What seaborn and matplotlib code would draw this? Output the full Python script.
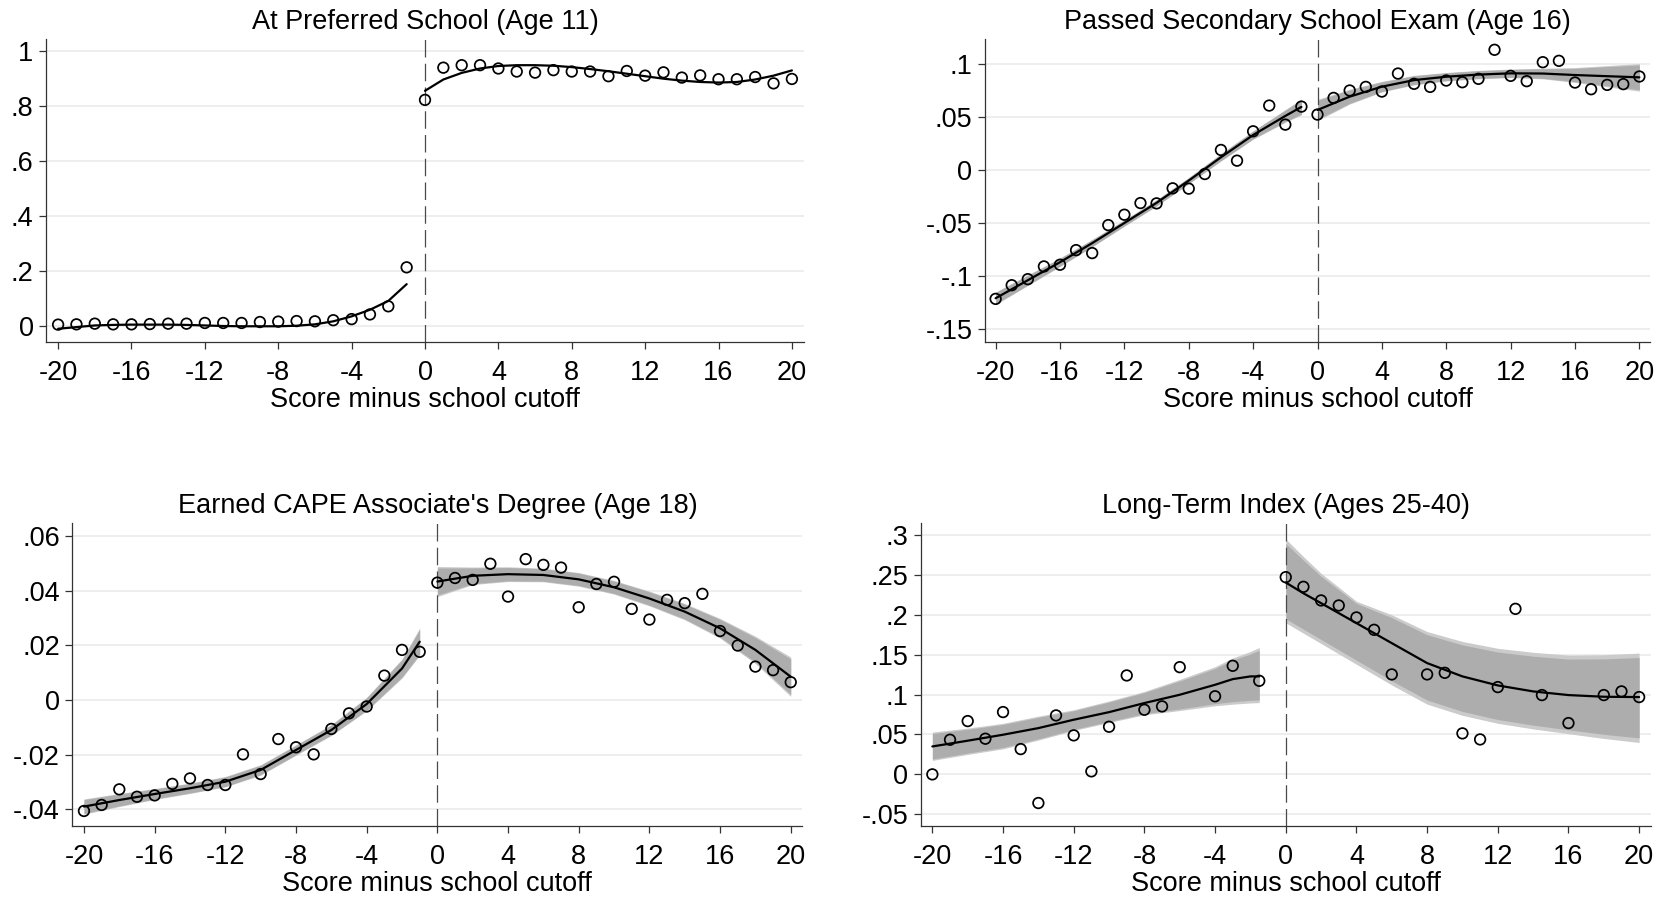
import matplotlib
matplotlib.use("Agg")
import matplotlib.pyplot as plt
import pandas as pd
import seaborn as sns

sns.set_theme(style="white")
plt.rcParams["font.family"] = ["Liberation Sans", "DejaVu Sans"]

W, H = 1666, 897
XLABEL = "Score minus school cutoff"
X_TICKS = [-20, -16, -12, -8, -4, 0, 4, 8, 12, 16, 20]
X_TICK_LABELS = ["-20", "-16", "-12", "-8", "-4", "0", "4", "8", "12", "16", "20"]

# ---------------- At Preferred School (Age 11) ----------------
pref_title = "At Preferred School (Age 11)"
pref_bin_left = list(range(-20, 0))
pref_mean_left = [0.005, 0.006, 0.0085, 0.006, 0.006, 0.007, 0.0085, 0.0085, 0.011, 0.011,
                  0.011, 0.0145, 0.016, 0.018, 0.017, 0.021, 0.025, 0.042, 0.0715, 0.213]
pref_bin_right = list(range(0, 21))
pref_mean_right = [0.821, 0.938, 0.947, 0.947, 0.935, 0.924, 0.920, 0.929, 0.924, 0.924, 0.907,
                   0.926, 0.909, 0.921, 0.902, 0.910, 0.896, 0.896, 0.904, 0.881, 0.897]
pref_fit_x_left = list(range(-20, 0))
pref_fit_left = [-0.010, -0.004, 0.002, 0.004, 0.005, 0.005, 0.005, 0.004, 0.002, 0.000,
                 -0.001, -0.001, -0.001, 0.001, 0.006, 0.017, 0.035, 0.059, 0.091, 0.152]
pref_fit_x_right = list(range(0, 21))
pref_fit_right = [0.854, 0.895, 0.919, 0.935, 0.944, 0.947, 0.947, 0.945, 0.940, 0.933, 0.925,
                  0.916, 0.907, 0.898, 0.891, 0.886, 0.884, 0.886, 0.895, 0.909, 0.928]
pref_yticks = [0, 0.2, 0.4, 0.6, 0.8, 1]
pref_ytick_labels = ["0", ".2", ".4", ".6", ".8", "1"]

# ---------------- Passed Secondary School Exam (Age 16) ----------------
exam_title = "Passed Secondary School Exam (Age 16)"
exam_bin_left = list(range(-20, 0))
exam_mean_left = [-0.1216, -0.1087, -0.103, -0.091, -0.0894, -0.0756, -0.0784, -0.052, -0.0422, -0.0312,
                  -0.0315, -0.0173, -0.0176, -0.0038, 0.0189, 0.0088, 0.0365, 0.0608, 0.0428, 0.0598]
exam_bin_right = list(range(0, 21))
exam_mean_right = [0.0523, 0.068, 0.075, 0.0784, 0.074, 0.091, 0.0813, 0.0784, 0.0844, 0.0828, 0.086,
                   0.1134, 0.0888, 0.0838, 0.1017, 0.103, 0.0825, 0.0762, 0.0803, 0.081, 0.0882]
exam_fit_x_left = [-20, -18, -16, -14, -12, -10, -8, -6, -4, -2, -1]
exam_fit_left = [-0.121, -0.104, -0.087, -0.069, -0.050, -0.031, -0.010, 0.012, 0.033, 0.051, 0.0595]
exam_ci_lo_left = [-0.127, -0.109, -0.091, -0.0725, -0.053, -0.034, -0.013, 0.0085, 0.029, 0.045, 0.052]
exam_ci_hi_left = [-0.115, -0.099, -0.083, -0.0655, -0.047, -0.028, -0.007, 0.0155, 0.037, 0.057, 0.067]
exam_fit_x_right = [0, 2, 4, 6, 8, 10, 12, 14, 16, 18, 20]
exam_fit_right = [0.0566, 0.0692, 0.0786, 0.0848, 0.088, 0.090, 0.0912, 0.091, 0.0896, 0.0885, 0.0874]
exam_ci_lo_right = [0.0466, 0.0622, 0.0736, 0.0803, 0.084, 0.086, 0.0872, 0.086, 0.0826, 0.0785, 0.0744]
exam_ci_hi_right = [0.0666, 0.0762, 0.0836, 0.0893, 0.092, 0.094, 0.0952, 0.096, 0.0966, 0.0985, 0.1004]
exam_yticks = [-0.15, -0.1, -0.05, 0, 0.05, 0.1]
exam_ytick_labels = ["-.15", "-.1", "-.05", "0", ".05", ".1"]

# ---------------- Earned CAPE Associate's Degree (Age 18) ----------------
cape_title = "Earned CAPE Associate's Degree (Age 18)"
cape_bin_left = list(range(-20, 0))
cape_mean_left = [-0.0406, -0.0384, -0.0327, -0.0354, -0.0349, -0.0307, -0.0287, -0.0311, -0.0311, -0.0199,
                  -0.0271, -0.0143, -0.0173, -0.0199, -0.0106, -0.0049, -0.0024, 0.0089, 0.0183, 0.0176]
cape_bin_right = list(range(0, 21))
cape_mean_right = [0.0429, 0.0446, 0.0439, 0.0498, 0.0378, 0.0515, 0.0494, 0.0484, 0.0339, 0.0424, 0.0432,
                   0.0333, 0.0294, 0.0366, 0.0354, 0.0388, 0.0252, 0.0199, 0.0122, 0.0109, 0.0065]
cape_fit_x_left = [-20, -18, -16, -14, -12, -10, -8, -6, -4, -2, -1]
cape_fit_left = [-0.039, -0.0366, -0.0344, -0.0323, -0.0299, -0.0256, -0.0183, -0.0110, -0.0015, 0.0115, 0.0213]
cape_ci_lo_left = [-0.0418, -0.0390, -0.0364, -0.0342, -0.0318, -0.0275, -0.0202, -0.0130, -0.0040, 0.0080, 0.0163]
cape_ci_hi_left = [-0.0362, -0.0342, -0.0324, -0.0304, -0.0280, -0.0237, -0.0164, -0.0090, 0.0010, 0.0150, 0.0263]
cape_fit_x_right = [0, 2, 4, 6, 8, 10, 12, 14, 16, 18, 20]
cape_fit_right = [0.0433, 0.0454, 0.046, 0.0457, 0.0441, 0.0412, 0.0371, 0.0323, 0.0262, 0.0183, 0.0085]
cape_ci_lo_right = [0.0378, 0.0422, 0.0433, 0.0432, 0.0416, 0.0387, 0.0344, 0.0293, 0.0226, 0.0133, 0.0013]
cape_ci_hi_right = [0.0488, 0.0486, 0.0487, 0.0482, 0.0466, 0.0437, 0.0398, 0.0353, 0.0298, 0.0233, 0.0157]
cape_yticks = [-0.04, -0.02, 0, 0.02, 0.04, 0.06]
cape_ytick_labels = ["-.04", "-.02", "0", ".02", ".04", ".06"]

# ---------------- Long-Term Index (Ages 25-40) ----------------
ltix_title = "Long-Term Index (Ages 25-40)"
ltix_bin_left = [-20, -19, -18, -17, -16, -15, -14, -13, -12, -11, -10, -9, -8, -7, -6, -4, -3, -1.5]
ltix_mean_left = [0.0, 0.0434, 0.0668, 0.0447, 0.0781, 0.0317, -0.0359, 0.0739, 0.0489, 0.0038,
                  0.0597, 0.124, 0.081, 0.0852, 0.1344, 0.0979, 0.1361, 0.1173]
ltix_bin_right = [0, 1, 2, 3, 4, 5, 6, 8, 9, 10, 11, 12, 13, 14.5, 16, 18, 19, 20]
ltix_mean_right = [0.2472, 0.2351, 0.218, 0.2117, 0.1967, 0.1812, 0.1253, 0.1253, 0.1273, 0.0514,
                   0.0438, 0.1094, 0.2075, 0.0994, 0.0643, 0.0994, 0.104, 0.0969]
ltix_fit_x_left = [-20, -18, -16, -14, -12, -10, -8, -6, -4, -3, -2, -1.5]
ltix_fit_left = [0.035, 0.0422, 0.0497, 0.058, 0.0685, 0.078, 0.0894, 0.0998, 0.1123, 0.1194, 0.1228, 0.1228]
ltix_ci_lo_left = [0.0175, 0.025, 0.032, 0.043, 0.055, 0.065, 0.0747, 0.080, 0.086, 0.088, 0.0895, 0.090]
ltix_ci_hi_left = [0.053, 0.058, 0.064, 0.073, 0.081, 0.092, 0.104, 0.119, 0.135, 0.146, 0.154, 0.159]
ltix_fit_x_right = [0, 1, 2, 4, 6, 8, 10, 12, 14, 16, 18, 20]
ltix_fit_right = [0.2405, 0.227, 0.2146, 0.1896, 0.1645, 0.1395, 0.1228, 0.1115, 0.104, 0.0994, 0.0973, 0.0969]
ltix_ci_lo_right = [0.190, 0.177, 0.164, 0.138, 0.112, 0.088, 0.074, 0.064, 0.057, 0.051, 0.045, 0.040]
ltix_ci_hi_right = [0.295, 0.273, 0.252, 0.217, 0.200, 0.179, 0.1666, 0.158, 0.153, 0.1495, 0.150, 0.152]
ltix_yticks = [-0.05, 0, 0.05, 0.1, 0.15, 0.2, 0.25, 0.3]
ltix_ytick_labels = ["-.05", "0", ".05", ".1", ".15", ".2", ".25", ".3"]

OUTER_BAND = "#cbcbcb"
INNER_BAND = "#adadad"
INNER_SHARE = 0.9
TEXT_SIZE = 19.5
TICK_SIZE = 19.5


def band(ax, x, fit, lo, hi):
    # light outer shading with a darker core inside it
    ax.fill_between(x, lo, hi, color=OUTER_BAND, lw=0, zorder=1)
    lo_in = [f - INNER_SHARE * (f - l) for f, l in zip(fit, lo)]
    hi_in = [f + INNER_SHARE * (h - f) for f, h in zip(fit, hi)]
    ax.fill_between(x, lo_in, hi_in, color=INNER_BAND, lw=0, zorder=1.5)


def panel(box, ylim, title, yticks, ylabels, bins, means, fits, bands):
    l, r, t, b = box
    ax = fig.add_axes([l / W, 1 - b / H, (r - l) / W, (b - t) / H])
    ax.set_xlim(-20.66, 20.66)
    ax.set_ylim(*ylim)
    for y in yticks:
        ax.axhline(y, color="#ebebeb", lw=1.2, zorder=0)
    for x, lo, hi, fit in bands:
        band(ax, x, fit, lo, hi)
    for fx, fy in fits:
        d = pd.DataFrame({"x": fx, "y": fy})
        sns.lineplot(data=d, x="x", y="y", ax=ax, color="black", lw=1.6,
                     sort=False, estimator=None, zorder=3)
    for bx, by in zip(bins, means):
        d = pd.DataFrame({"x": bx, "y": by})
        sns.scatterplot(data=d, x="x", y="y", ax=ax, marker="o", s=58,
                        facecolors="none", edgecolor="black", linewidth=1.25, zorder=4)
    ax.axvline(0, color="#4a4a4a", lw=0.9, ls=(0, (14, 5)), zorder=2)
    ax.set_xticks(X_TICKS)
    ax.set_xticklabels(X_TICK_LABELS)
    ax.set_yticks(yticks)
    ax.set_yticklabels(ylabels)
    ax.tick_params(axis="both", which="major", direction="out", length=5, width=0.9,
                   color="#333333", labelsize=TICK_SIZE, labelcolor="black",
                   left=True, bottom=True)
    ax.tick_params(axis="x", pad=8)
    ax.tick_params(axis="y", pad=4)
    for side in ("top", "right"):
        ax.spines[side].set_visible(False)
    for side in ("left", "bottom"):
        ax.spines[side].set_color("#333333")
        ax.spines[side].set_linewidth(0.9)
    ax.set_xlabel(XLABEL, fontsize=TEXT_SIZE, labelpad=1, color="black")
    ax.set_ylabel("")
    ax.set_title(title, fontsize=TEXT_SIZE, pad=7.5, color="black")
    ax.grid(False)
    return ax


fig = plt.figure(figsize=(W / 100, H / 100), dpi=100, facecolor="white")

panel((46, 804, 39.3, 341.7), (-0.057, 1.041), pref_title, pref_yticks, pref_ytick_labels,
      [pref_bin_left, pref_bin_right], [pref_mean_left, pref_mean_right],
      [(pref_fit_x_left, pref_fit_left), (pref_fit_x_right, pref_fit_right)], [])

panel((985, 1650, 39.3, 341.7), (-0.162, 0.1233), exam_title, exam_yticks, exam_ytick_labels,
      [exam_bin_left, exam_bin_right], [exam_mean_left, exam_mean_right],
      [(exam_fit_x_left, exam_fit_left), (exam_fit_x_right, exam_fit_right)],
      [(exam_fit_x_left, exam_ci_lo_left, exam_ci_hi_left, exam_fit_left),
       (exam_fit_x_right, exam_ci_lo_right, exam_ci_hi_right, exam_fit_right)])

panel((72.3, 802.4, 523.3, 826), (-0.0461, 0.0646), cape_title, cape_yticks, cape_ytick_labels,
      [cape_bin_left, cape_bin_right], [cape_mean_left, cape_mean_right],
      [(cape_fit_x_left, cape_fit_left), (cape_fit_x_right, cape_fit_right)],
      [(cape_fit_x_left, cape_ci_lo_left, cape_ci_hi_left, cape_fit_left),
       (cape_fit_x_right, cape_ci_lo_right, cape_ci_hi_right, cape_fit_right)])

panel((920.7, 1650.8, 523.3, 826), (-0.0647, 0.3147), ltix_title, ltix_yticks, ltix_ytick_labels,
      [ltix_bin_left, ltix_bin_right], [ltix_mean_left, ltix_mean_right],
      [(ltix_fit_x_left, ltix_fit_left), (ltix_fit_x_right, ltix_fit_right)],
      [(ltix_fit_x_left, ltix_ci_lo_left, ltix_ci_hi_left, ltix_fit_left),
       (ltix_fit_x_right, ltix_ci_lo_right, ltix_ci_hi_right, ltix_fit_right)])

fig.savefig("out.png", dpi=100, facecolor="white")
